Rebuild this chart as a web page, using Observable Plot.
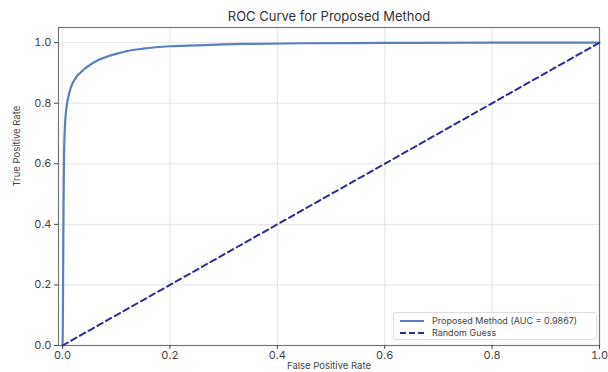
<!DOCTYPE html>
<html><head><meta charset="utf-8">
<script src="https://cdn.jsdelivr.net/npm/d3@7"></script>
<script src="https://cdn.jsdelivr.net/npm/@observablehq/plot@0.6"></script>
<style>
body{margin:0;background:#fff;font-family:Inter,"Open Sans",sans-serif;}
#wrap{position:relative;width:608px;height:372px;}
#title{position:absolute;left:0;width:608px;top:8px;text-align:center;font-size:13px;color:#333;padding-left:50px;box-sizing:border-box;}
#legend{position:absolute;left:393px;top:312px;width:204px;height:28px;border:1px solid #ddd;border-radius:3px;background:rgba(255,255,255,0.9);font-size:9px;color:#444;box-sizing:border-box;}
.row{position:absolute;left:6px;display:flex;align-items:center;}
.sw{width:24px;height:0;margin-right:8px;}
</style></head><body>
<div id="wrap"><div id="title">ROC Curve for Proposed Method</div><div id="chart"></div>
<div id="legend"><div class="row" style="top:2px"><div class="sw" style="border-top:2px solid #5b7fc0"></div>Proposed Method (AUC = 0.9867)</div>
<div class="row" style="top:14px"><div class="sw" style="border-top:2px dashed #2b2b9a"></div>Random Guess</div></div></div>
<script>
const fpr = [0,0.0005,0.001,0.0015,0.002,0.0025,0.003,0.004,0.005,0.007,0.009,0.012,0.016,0.02,0.027,0.033,0.04,0.05,0.06,0.07,0.085,0.1,0.12,0.15,0.2,0.25,0.3,0.35,0.45,0.6,0.8,1.0];
const tpr = [0,0.05,0.2,0.35,0.48,0.58,0.64,0.7,0.74,0.78,0.805,0.83,0.855,0.87,0.89,0.9,0.912,0.925,0.936,0.945,0.955,0.963,0.972,0.98,0.988,0.991,0.994,0.996,0.998,0.999,1.0,1.0];
const diagX = [0,1];
const diagY = [0,1];
const xTicks = [0,0.2,0.4,0.6,0.8,1.0];
const yTicks = [0,0.2,0.4,0.6,0.8,1.0];
const xLabel = "False Positive Rate";
const yLabel = "True Positive Rate";
const roc = fpr.map((x,i)=>({x, y:tpr[i]}));
const diag = diagX.map((x,i)=>({x, y:diagY[i]}));
const chart = Plot.plot({
  width:608, height:372,
  marginLeft:58, marginRight:9, marginTop:27, marginBottom:27,
  style:{fontFamily:'Inter,"Open Sans",sans-serif', fontSize:"11px", color:"#444"},
  x:{domain:[-0.0075,1.0], label:null},
  y:{domain:[0,1.05], label:null},
  marks:[
    Plot.gridX(xTicks,{stroke:"#e6e6e6", strokeOpacity:1}),
    Plot.gridY(yTicks,{stroke:"#e6e6e6", strokeOpacity:1}),
    Plot.frame({stroke:"#777", strokeWidth:1.2}),
    Plot.line(roc,{x:"x",y:"y",stroke:"#5b7fc0",strokeWidth:2.2, curve:"monotone-x"}),
    Plot.line(diag,{x:"x",y:"y",stroke:"#2b2b9a",strokeWidth:2,strokeDasharray:"6,4"}),
    Plot.axisX({ticks:xTicks, tickFormat:d3.format(".1f"), tickSize:4, tickPadding:2, label:null, fontSize:11}),
    Plot.axisY({ticks:yTicks, tickFormat:d3.format(".1f"), tickSize:4, tickPadding:3, label:null, fontSize:11}),
    Plot.text([xLabel],{text:d=>d, frameAnchor:"bottom", dy:23, fontSize:9.5, fill:"#444"}),
    Plot.text([yLabel],{text:d=>d, frameAnchor:"left", dx:-42, rotate:-90, fontSize:9.5, fill:"#444"})
  ]
});
document.getElementById("chart").appendChild(chart);
</script></body></html>
